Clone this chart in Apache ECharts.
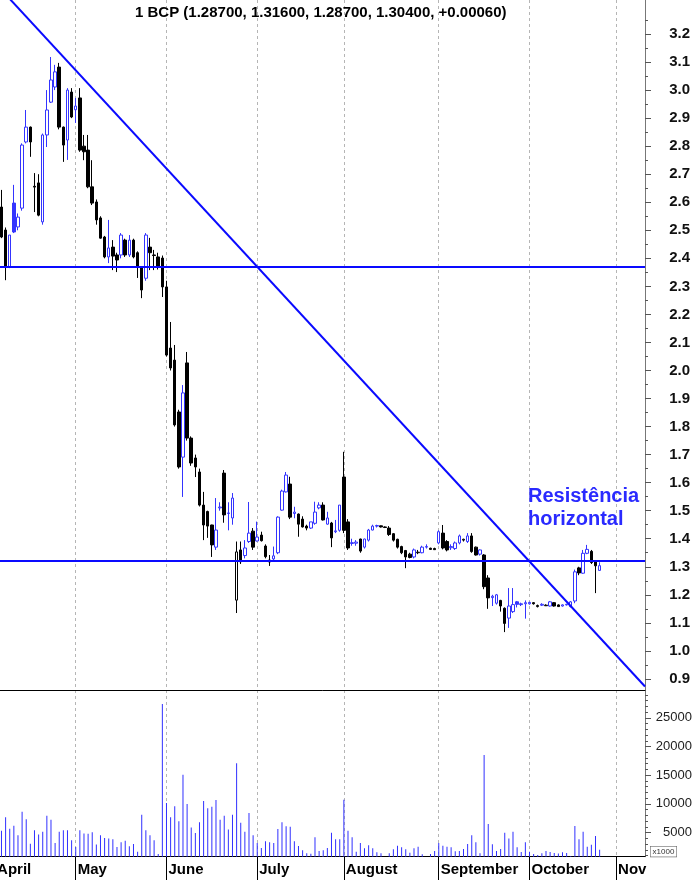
<!DOCTYPE html>
<html><head><meta charset="utf-8">
<script src="https://cdn.jsdelivr.net/npm/echarts@6/dist/echarts.min.js"></script>
<style>html,body{margin:0;padding:0;background:#fff}#c{width:694px;height:880px}</style>
</head><body><div id="c"></div>
<script>
// ---------- data ----------
const firstTradingDay = [2016, 3, 1];      // 1 April 2016 (axis start)
const totalDays = 160;                     // trading days on the axis
const dataStartIndex = 3;                  // first visible candle = 6 April 2016
const monthLabels = {4:'April',5:'May',6:'June',7:'July',8:'August',9:'September',10:'October',11:'Nov'};
const titleText = '1 BCP (1.28700, 1.31600, 1.28700, 1.30400, +0.00060)';
const noteText = 'Resistência\nhorizontal';

const opens = [
  2.583,2.501,2.369,2.597,2.512,2.579,2.815,2.868,2.657,2.669,2.530,2.84,2.957,3.011,3.082,2.868,2.822,2.993,
  2.93,2.972,2.80,2.786,2.655,2.601,2.544,2.476,2.405,2.44,2.412,2.412,2.465,2.412,2.465,2.42,2.369,2.329,2.44,2.412,2.405,2.401,
  2.298,2.08,2.037,1.852,1.691,2.027,1.759,1.688,1.638,1.52,1.497,1.449,1.37,1.51,1.634,1.49,1.474,1.181,1.36,1.34,1.39,1.427,
  1.392,1.413,1.374,1.324,1.328,1.35,1.502,1.567,1.595,1.49,1.488,1.47,1.445,1.438,1.455,1.51,1.52,1.452,1.456,1.425,1.43,
  1.62,1.46,1.383,1.384,1.399,1.37,1.395,1.431,1.445,1.446,1.442,1.438,1.418,1.398,1.372,1.358,1.345,1.335,1.35,1.35,1.37,1.366,1.365,
  1.385,1.42,1.39,1.368,1.365,1.385,1.395,1.39,1.41,1.37,1.345,1.342,1.26,1.19,1.17,1.18,1.152,1.117,1.14,1.175,1.165,1.168,
  1.168,1.172,1.158,1.163,1.161,1.16,1.172,1.164,1.16,1.164,1.158,1.178,1.296,1.277,1.348,1.355,1.318,1.287
];
const highs = [
  2.644,2.51,2.483,2.662,2.56,2.81,2.929,2.87,2.704,2.70,2.845,3.0,3.118,3.09,3.097,2.87,3.007,3.007,
  2.972,3.007,2.84,2.84,2.75,2.61,2.55,2.48,2.537,2.465,2.42,2.49,2.47,2.483,2.47,2.425,2.37,2.49,2.473,2.43,2.42,2.41,
  2.32,2.173,2.091,1.86,1.948,2.066,1.765,1.70,1.65,1.567,1.50,1.45,1.545,1.53,1.645,1.53,1.563,1.39,1.39,1.395,1.531,1.438,
  1.461,1.425,1.38,1.342,1.372,1.48,1.575,1.638,1.621,1.514,1.49,1.48,1.45,1.46,1.532,1.53,1.53,1.496,1.46,1.467,1.52,
  1.71,1.47,1.40,1.395,1.40,1.40,1.435,1.45,1.45,1.447,1.444,1.445,1.42,1.40,1.375,1.36,1.35,1.365,1.36,1.375,1.38,1.368,1.368,
  1.43,1.449,1.395,1.38,1.39,1.415,1.40,1.42,1.42,1.372,1.362,1.345,1.27,1.20,1.203,1.182,1.155,1.224,1.224,1.178,1.172,1.18,
  1.175,1.174,1.165,1.17,1.166,1.178,1.174,1.166,1.166,1.168,1.178,1.29,1.30,1.36,1.378,1.36,1.32,1.316
];
const lows = [
  2.472,2.322,2.365,2.49,2.50,2.57,2.81,2.762,2.565,2.55,2.52,2.797,2.954,3.0,2.86,2.744,2.751,2.90,
  2.883,2.78,2.75,2.65,2.59,2.52,2.47,2.40,2.383,2.358,2.351,2.40,2.405,2.405,2.40,2.33,2.258,2.32,2.358,2.358,2.36,2.262,
  2.05,2.0,1.80,1.65,1.549,1.75,1.66,1.62,1.515,1.395,1.403,1.335,1.36,1.50,1.457,1.43,1.45,1.135,1.31,1.33,1.385,1.36,
  1.39,1.39,1.33,1.303,1.32,1.345,1.50,1.565,1.47,1.473,1.407,1.44,1.43,1.435,1.45,1.505,1.465,1.45,1.37,1.42,1.425,
  1.42,1.36,1.375,1.375,1.35,1.365,1.39,1.43,1.44,1.44,1.438,1.41,1.39,1.365,1.345,1.295,1.33,1.33,1.345,1.348,1.365,1.36,1.36,
  1.38,1.362,1.355,1.36,1.36,1.38,1.39,1.385,1.35,1.34,1.34,1.22,1.15,1.16,1.165,1.14,1.067,1.082,1.135,1.155,1.16,1.115,
  1.165,1.165,1.155,1.16,1.16,1.158,1.158,1.158,1.158,1.162,1.155,1.17,1.27,1.275,1.345,1.31,1.206,1.287
];
const closes = [
  2.476,2.369,2.483,2.494,2.547,2.804,2.868,2.815,2.654,2.554,2.84,2.929,3.036,3.065,2.868,2.804,3.0,2.904,
  2.943,2.786,2.78,2.655,2.597,2.537,2.472,2.405,2.437,2.408,2.394,2.483,2.412,2.465,2.405,2.369,2.287,2.483,2.42,2.41,2.369,2.298,
  2.055,2.009,1.806,1.656,1.92,1.759,1.67,1.656,1.52,1.449,1.445,1.378,1.431,1.513,1.485,1.492,1.545,1.353,1.318,1.367,1.42,1.37,
  1.406,1.393,1.336,1.317,1.339,1.477,1.57,1.627,1.477,1.495,1.452,1.442,1.438,1.46,1.495,1.52,1.467,1.474,1.403,1.428,1.52,
  1.43,1.367,1.386,1.388,1.356,1.399,1.431,1.445,1.447,1.442,1.44,1.415,1.395,1.37,1.35,1.335,1.333,1.36,1.352,1.37,1.372,1.362,1.361,
  1.425,1.367,1.36,1.372,1.385,1.41,1.398,1.41,1.354,1.342,1.36,1.229,1.189,1.195,1.2,1.16,1.098,1.16,1.165,1.166,1.168,1.172,
  1.173,1.168,1.162,1.166,1.163,1.175,1.16,1.158,1.164,1.166,1.175,1.282,1.278,1.348,1.362,1.315,1.3034,1.304
];
const volumes = [ // x1000 shares
  5330,7665,5680,6200,4520,8650,7320,3060,5390,4690,5150,7950,7260,3170,5150,5390,5390,3650,
  2490,5390,4860,4800,5040,2940,4520,4050,3990,3820,2490,3300,3590,2610,3020,1680,8130,5390,4520,3650,1260,27400,
  10170,7665,9570,6960,15060,10000,5870,4920,6800,10500,9250,9520,10660,7260,7950,5560,8130,17100,6700,5150,8420,4520,
  3170,2320,3480,3300,3170,5620,6800,6090,6030,3480,2670,1920,1420,1310,4170,1800,1920,2320,4980,3820,3820,
  10720,5330,4170,1680,3170,2260,2780,2260,1560,1420,500,1420,2090,2720,2430,2090,1510,2260,2550,1220,470,1280,1800,
  3170,2720,2550,2430,1740,1800,2150,3020,4520,3300,1420,18500,6490,2960,1800,2150,4980,3990,5150,2430,1620,3300,
  1680,1280,1100,1420,1800,1620,1450,1340,1560,1450,930,6150,3820,5150,2550,2900,4400,2000
];
const levels = [2.368, 1.324];                 // horizontal support/resistance
const trendLine = [[0, 3.405], [159, 0.873]];  // [axis day index, price]
const priceLabels = [0.9,1.0,1.1,1.2,1.3,1.4,1.5,1.6,1.7,1.8,1.9,2.0,2.1,2.2,2.3,2.4,2.5,2.6,2.7,2.8,2.9,3.0,3.1,3.2];
const volumeLabels = [5000,10000,15000,20000,25000];

// ---------- build ----------
const dates = [];
(function(){
  const d = new Date(Date.UTC(firstTradingDay[0], firstTradingDay[1], firstTradingDay[2]));
  while (dates.length < totalDays) {
    const wd = d.getUTCDay();
    if (wd !== 0 && wd !== 6) dates.push(d.toISOString().slice(0,10));
    d.setUTCDate(d.getUTCDate() + 1);
  }
})();
const isMonthStart = i => i === 0 || dates[i].slice(5,7) !== dates[i-1].slice(5,7);

const BLUE = '#3434ff', BLACK = '#000000';
const candleData = dates.map(() => '-');
const volData = dates.map(() => '-');
for (let k = 0; k < opens.length; k++) {
  const i = dataStartIndex + k;
  const o = opens[k], c = closes[k];
  const prev = k > 0 ? closes[k-1] : o;
  const col = c >= prev ? BLUE : BLACK;
  const fill = c >= o ? '#ffffff' : col;
  candleData[i] = {
    value: [o, c, lows[k], highs[k]],
    itemStyle: {color: fill, color0: fill, borderColor: col, borderColor0: col, borderWidth: 1}
  };
  volData[i] = volumes[k];
}
const priceMinor = [];
for (let k = 17; k <= 65; k += 2) priceMinor.push(k / 20);
const volMinor = [];
for (let v = 1000; v <= 29000; v += 1000) if (v % 5000) volMinor.push(v);

const FONT = 'Liberation Sans, Arial, sans-serif';
const dashed = {show: true, interval: (i) => isMonthStart(i), lineStyle: {color: '#b5b5b5', type: [3, 3], width: 1}};
const monthFont = {fontFamily: FONT, fontSize: 15, fontWeight: 'bold', color: '#000'};

const chart = echarts.init(document.getElementById('c'), null, {renderer: 'canvas'});
chart.setOption({
  animation: false,
  backgroundColor: '#ffffff',
  title: [
    {text: titleText, left: 135, top: 5, padding: 0,
     textStyle: {fontFamily: FONT, fontSize: 15, fontWeight: 'bold', color: '#000'}},
    {text: noteText, left: 528, top: 485, padding: 0,
     textStyle: {fontFamily: FONT, fontSize: 20, fontWeight: 'bold', color: '#2a2aff', lineHeight: 23}}
  ],
  grid: [
    {left: -10.9, right: 49, top: 0, bottom: 190, containLabel: false, outerBoundsMode: 'none'},
    {left: -10.9, right: 49, top: 690, bottom: 23.3, containLabel: false, outerBoundsMode: 'none'}
  ],
  xAxis: [
    {type: 'category', gridIndex: 0, data: dates, boundaryGap: false,
     axisLine: {show: true, onZero: false, lineStyle: {color: '#000', width: 1}},
     axisTick: {show: false}, axisLabel: {show: false}, splitLine: dashed},
    {type: 'category', gridIndex: 1, data: dates, boundaryGap: false,
     axisLine: {show: true, onZero: false, lineStyle: {color: '#000', width: 1}},
     axisTick: {show: true, interval: (i) => isMonthStart(i), length: 24, lineStyle: {color: '#000'}},
     axisLabel: Object.assign({show: true, interval: (i) => isMonthStart(i), align: 'left', margin: 6, padding: [0,0,0,2],
       formatter: (v, i) => i === 0 ? '{first|' + monthLabels[+v.slice(5,7)] + '}' : monthLabels[+v.slice(5,7)],
       rich: {first: Object.assign({padding: [0, 0, 0, 6]}, monthFont)}}, monthFont),
     splitLine: dashed}
  ],
  yAxis: [
    {type: 'value', gridIndex: 0, position: 'right', min: 0.8605, max: 3.3213,
     axisLine: {show: true, lineStyle: {color: '#777'}},
     axisTick: {show: true, length: 6, customValues: priceLabels, lineStyle: {color: '#555'}},
     axisLabel: {show: true, customValues: priceLabels, formatter: (v) => v.toFixed(1), align: 'right', margin: 45,
       fontFamily: FONT, fontSize: 15, fontWeight: 'bold', color: '#111'},
     splitLine: {show: false}},
    {type: 'value', gridIndex: 0, position: 'right', min: 0.8605, max: 3.3213,
     axisLine: {show: false},
     axisTick: {show: true, length: 3, customValues: priceMinor, lineStyle: {color: '#555'}},
     axisLabel: {show: false}, splitLine: {show: false}},
    {type: 'value', gridIndex: 1, position: 'right', min: 801, max: 29843,
     axisLine: {show: true, lineStyle: {color: '#777'}},
     axisTick: {show: true, length: 6, customValues: volumeLabels, lineStyle: {color: '#555'}},
     axisLabel: {show: true, customValues: volumeLabels, formatter: (v) => String(v), align: 'right', margin: 47,
       fontFamily: FONT, fontSize: 13, color: '#222'},
     splitLine: {show: false}},
    {type: 'value', gridIndex: 1, position: 'right', min: 801, max: 29843,
     axisLine: {show: false},
     axisTick: {show: true, length: 3, customValues: volMinor, lineStyle: {color: '#555'}},
     axisLabel: {show: false}, splitLine: {show: false}}
  ],
  graphic: [
    {type: 'text', left: 650, top: 846, z: 100,
     style: {text: 'x1000', fill: '#333', font: '8px ' + FONT, borderColor: '#666', borderWidth: 0.6, padding: [1, 2], backgroundColor: '#fff'}}
  ],
  series: [
    {type: 'candlestick', xAxisIndex: 0, yAxisIndex: 0, data: candleData, barWidth: 3,
     markLine: {silent: true, symbol: ['none', 'none'], label: {show: false},
       lineStyle: {color: '#0a0aff', width: 2, type: 'solid'},
       emphasis: {disabled: true},
       data: levels.map(v => ({yAxis: v}))}},
    {type: 'line', xAxisIndex: 0, yAxisIndex: 0, data: trendLine, symbol: 'none', silent: true,
     lineStyle: {color: '#0a0aff', width: 2}, z: 5},
    {type: 'bar', xAxisIndex: 1, yAxisIndex: 2, data: volData, barWidth: 1,
     itemStyle: {color: '#3030ff'}}
  ]
});
</script>
</body></html>
